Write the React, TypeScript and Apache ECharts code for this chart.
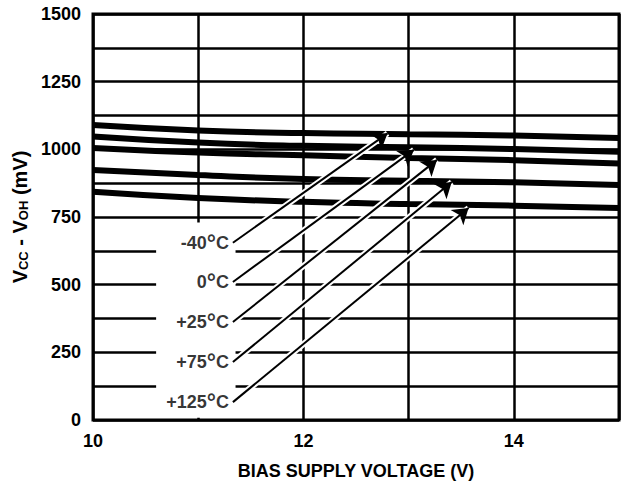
import React, { useEffect, useRef } from "react";
import * as echarts from "echarts";

const xValues = [10, 11, 12, 13, 14, 15];
const curveM40 = [1090, 1070, 1060, 1056, 1051, 1042];
const curve0 = [1047, 1025, 1013, 1008, 1001, 991];
const curve25 = [1005, 988, 978, 968, 960, 948];
const curve75 = [924, 905, 890, 884, 878, 868];
const curve125 = [843, 820, 806, 798, 792, 783];

const tempLabels = ["-40", "0", "+25", "+75", "+125"];
const arrowStartX = [11.33, 11.33, 11.33, 11.33, 11.33];
const arrowStartY = [655, 510, 362, 214, 66];
const arrowEndX = [12.8, 13.05, 13.27, 13.41, 13.57];
const arrowEndY = [1059, 998, 961, 879, 783];

const yTicks = [0, 250, 500, 750, 1000, 1250, 1500];
const xTicks = [10, 12, 14];

const FONT = "'Liberation Sans', Arial, Helvetica, sans-serif";

export default function App() {
  const ref = useRef<HTMLDivElement>(null);
  useEffect(() => {
    if (!ref.current) return;
    const chart = echarts.init(ref.current, undefined, { renderer: "svg" });
    const curves = [curveM40, curve0, curve25, curve75, curve125];
    const curveSeries = curves.map((c, i) => ({
      type: "line",
      name: tempLabels[i],
      data: xValues.map((x, j) => [x, c[j]]),
      smooth: true,
      symbol: "none",
      lineStyle: { color: "#000", width: 6 },
      z: 2,
    }));
    const arrowData = tempLabels.map((_, i) => ({
      coords: [
        [arrowStartX[i], arrowStartY[i]],
        [arrowEndX[i], arrowEndY[i]],
      ],
    }));
    chart.setOption({
      animation: false,
      grid: {
        left: 93,
        right: 3,
        top: 14,
        bottom: 65,
        show: true,
        borderColor: "#000",
        borderWidth: 3,
        backgroundColor: "#fff",
      },
      xAxis: {
        type: "value",
        min: 10,
        max: 15,
        interval: 1,
        name: "BIAS SUPPLY VOLTAGE (V)",
        nameLocation: "middle",
        nameGap: 42,
        nameTextStyle: { color: "#000", fontWeight: "bold", fontSize: 18, fontFamily: FONT },
        axisLine: { show: false },
        axisTick: { show: false },
        axisLabel: {
          color: "#000",
          fontWeight: "bold",
          fontSize: 18,
          fontFamily: FONT,
          margin: 12,
          formatter: (v: number) => (xTicks.includes(v) ? String(v) : ""),
        },
        splitLine: { show: true, lineStyle: { color: "#000", width: 2.5 } },
      },
      yAxis: {
        type: "value",
        min: 0,
        max: 1500,
        interval: 125,
        name: "V{s|CC} - V{s|OH} (mV)",
        nameLocation: "middle",
        nameGap: 62,
        nameTextStyle: {
          color: "#000",
          fontWeight: "bold",
          fontSize: 20,
          fontFamily: FONT,
          rich: {
            s: { fontSize: 13, fontWeight: "bold", fontFamily: FONT, color: "#000", verticalAlign: "bottom", padding: [8, 0, 0, 0] },
          },
        },
        axisLine: { show: false },
        axisTick: { show: false },
        axisLabel: {
          color: "#000",
          fontWeight: "bold",
          fontSize: 18,
          fontFamily: FONT,
          margin: 12,
          formatter: (v: number) => (yTicks.includes(v) ? String(v) : ""),
        },
        splitLine: { show: true, lineStyle: { color: "#000", width: 2.5 } },
      },
      series: [
        {
          type: "scatter",
          symbolSize: 0,
          data: tempLabels.map((t, i) => ({
            value: [arrowStartX[i], arrowStartY[i]],
            label: {
              show: true,
              position: "left",
              distance: 4,
              formatter: `${t}{d|°}C`,
              color: "#000",
              fontWeight: "bold",
              fontSize: 18,
              fontFamily: FONT,
              rich: {
                d: { fontSize: 23, fontWeight: "bold", fontFamily: FONT, color: "#000" },
              },
            },
          })),
          markArea: {
            silent: true,
            itemStyle: { color: "#fff" },
            data: [[{ coord: [10.6, 8] }, { coord: [11.355, 730] }]],
          },
          z: 1,
        },
        ...curveSeries,
        {
          type: "lines",
          coordinateSystem: "cartesian2d",
          data: arrowData,
          symbol: ["none", "none"],
          lineStyle: { color: "#fff", width: 6, opacity: 1 },
          z: 3,
        },
        {
          type: "lines",
          coordinateSystem: "cartesian2d",
          data: arrowData,
          symbol: ["none", "arrow"],
          symbolSize: [10, 15],
          lineStyle: { color: "#000", width: 2, opacity: 1 },
          itemStyle: { color: "#000" },
          z: 4,
        },
      ],
    });
    return () => chart.dispose();
  }, []);
  return (
    <div
      ref={ref}
      style={{ position: "absolute", left: 0, top: 0, width: 622, height: 485, background: "#fff" }}
    />
  );
}
